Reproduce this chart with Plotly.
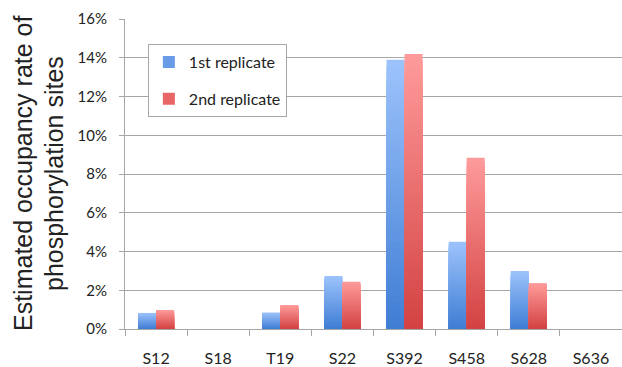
import plotly.graph_objects as go

sites = ["S12", "S18", "T19", "S22", "S392", "S458", "S628", "S636"]
rep1 = [0.83, 0, 0.85, 2.74, 13.9, 4.5, 3.0, 0]
rep2 = [0.98, 0, 1.24, 2.44, 14.2, 8.84, 2.37, 0]
series_names = ["1st replicate", "2nd replicate"]
y_ticks = [0, 2, 4, 6, 8, 10, 12, 14, 16]

colors_bottom = [(63, 125, 212), (211, 66, 66)]
colors_top = [(157, 195, 251), (255, 155, 155)]
legend_colors = ["#6A9BE6", "#E86666"]

N = 40  # gradient layers per bar

fig = go.Figure()
for s, (name, vals) in enumerate(zip(series_names, [rep1, rep2])):
    cb, ct = colors_bottom[s], colors_top[s]
    # nested bars: tallest (top colour) first, shortest (bottom colour) last
    for k in range(N):
        frac = (N - k) / N
        t = (N - k - 0.5) / N
        col = "rgb(%d,%d,%d)" % tuple(round(cb[i] + (ct[i] - cb[i]) * t) for i in range(3))
        fig.add_trace(go.Bar(
            x=sites,
            y=[v * frac for v in vals],
            offsetgroup=str(s),
            name=name,
            legendgroup=name,
            showlegend=False,
            marker=dict(color=col, line=dict(width=0)),
            hoverinfo="skip",
        ))
    fig.add_trace(go.Bar(
        x=[sites[0]], y=[0], offsetgroup=str(s), name=name, legendgroup=name,
        showlegend=True, marker=dict(color=legend_colors[s], line=dict(width=0)),
        hoverinfo="skip",
    ))

fig.update_layout(
    width=622, height=367,
    margin=dict(l=125, r=0, t=19, b=38, autoexpand=False),
    paper_bgcolor="white", plot_bgcolor="white",
    barmode="group", bargap=0.42, bargroupgap=0,
    showlegend=True,
    legend=dict(
        x=0.046, y=0.919, xanchor="left", yanchor="top",
        bgcolor="white", bordercolor="#A6A6A6", borderwidth=1,
        font=dict(family="Lato, Open Sans, sans-serif", size=16, color="#222222"),
        tracegroupgap=13,
    ),
    font=dict(family="Lato, Open Sans, sans-serif", color="#222222"),
    annotations=[
        dict(text="Estimated occupancy rate of", xref="paper", yref="paper",
             x=(23 - 125) / 497, y=0.5, xanchor="center", yanchor="middle",
             textangle=-90, showarrow=False,
             font=dict(size=25, family="Liberation Sans, Arial, sans-serif", color="#222222")),
        dict(text="phosphorylation sites", xref="paper", yref="paper",
             x=(54 - 125) / 497, y=0.5, xanchor="center", yanchor="middle",
             textangle=-90, showarrow=False,
             font=dict(size=25, family="Liberation Sans, Arial, sans-serif", color="#222222")),
    ],
)
fig.update_xaxes(
    type="category", automargin=False,
    showline=True, linecolor="#A6A6A6", linewidth=1,
    ticks="outside", tickson="boundaries", ticklen=6, tickcolor="#A6A6A6",
    tickfont=dict(size=16, family="Lato, Open Sans, sans-serif", color="#222222"),
    ticklabelstandoff=15,
    showgrid=False,
)
fig.update_yaxes(
    range=[0, 16], tickvals=y_ticks, ticktext=[f"{v}%" for v in y_ticks],
    automargin=False,
    showgrid=True, gridcolor="#A6A6A6", gridwidth=1,
    showline=True, linecolor="#A6A6A6", linewidth=1,
    ticks="outside", ticklen=5, tickcolor="#A6A6A6",
    tickfont=dict(size=15, family="Lato, Open Sans, sans-serif", color="#222222"),
    ticklabelstandoff=9,
    zeroline=False,
)

fig.write_html("out.html", config={"displayModeBar": False},
               post_script="document.body.style.margin='0';")
